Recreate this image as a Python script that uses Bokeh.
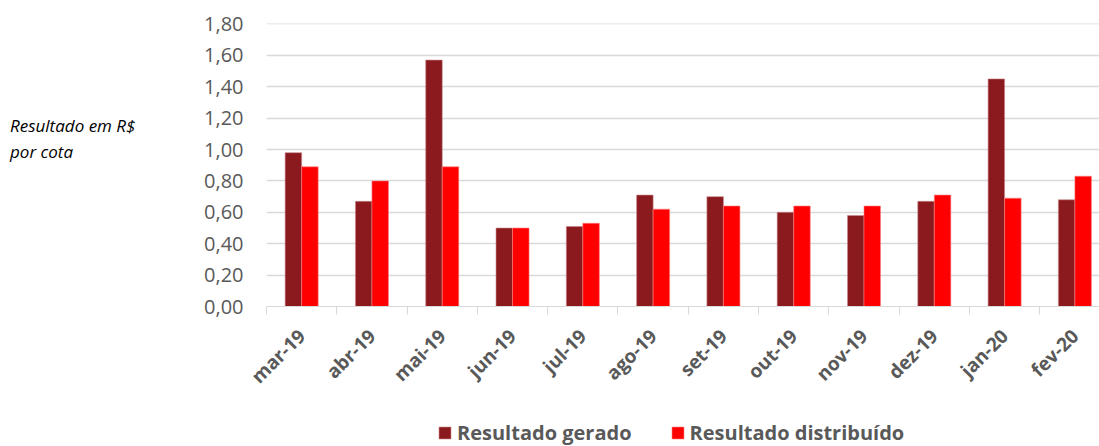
import math
from bokeh.plotting import figure
from bokeh.layouts import row, column
from bokeh.models import (ColumnDataSource, Range1d, FixedTicker, CustomJSTickFormatter,
                          Legend, LegendItem, Div)
from bokeh.transform import dodge
from bokeh.embed import file_html
from bokeh.resources import INLINE

months = ["mar-19", "abr-19", "mai-19", "jun-19", "jul-19", "ago-19",
          "set-19", "out-19", "nov-19", "dez-19", "jan-20", "fev-20"]
gerado = [0.98, 0.67, 1.57, 0.50, 0.51, 0.71, 0.70, 0.60, 0.58, 0.67, 1.45, 0.68]
distribuido = [0.89, 0.80, 0.89, 0.50, 0.53, 0.62, 0.64, 0.64, 0.64, 0.71, 0.69, 0.83]
y_ticks = [0.0, 0.2, 0.4, 0.6, 0.8, 1.0, 1.2, 1.4, 1.6, 1.8]

C_GER = "#8B1A1F"
C_DIS = "#FF0000"
TXT = "#595959"
GRID = "#D9D9D9"
FONT = "Open Sans"

DIV_W = 180
TOP_H = 400
LEG_H = 46

pos = [i + 0.5 for i in range(len(months))]
src = ColumnDataSource(dict(x=pos, g=gerado, d=distribuido, m=months))

p = figure(width=1099 - DIV_W, height=TOP_H, output_backend="svg", toolbar_location=None,
           x_range=Range1d(0, 11.85), y_range=Range1d(0, 1.803),
           min_border_left=266 - DIV_W, min_border_right=0, min_border_top=23,
           min_border_bottom=TOP_H - 308)
p.outline_line_color = None
p.background_fill_color = "white"
p.border_fill_color = "white"

bw = 0.235
bar_ger = dict(fill_color=C_GER, line_color="#C98A8D", line_width=0.6)
bar_dis = dict(fill_color=C_DIS, line_color="#FF8080", line_width=0.6)
p.vbar(x=dodge("x", -bw / 2, range=p.x_range), top="g", width=bw, source=src, **bar_ger)
p.vbar(x=dodge("x", bw / 2, range=p.x_range), top="d", width=bw, source=src, **bar_dis)

# x axis
xa = p.xaxis[0]
xa.ticker = FixedTicker(ticks=pos, minor_ticks=list(range(len(months) + 1)))
xa.major_label_overrides = {pt: m for pt, m in zip(pos, months)}
xa.major_tick_line_color = None
xa.major_tick_out = 0
xa.major_tick_in = 0
xa.minor_tick_line_color = GRID
xa.minor_tick_out = 8
xa.minor_tick_in = 0
xa.minor_tick_line_width = 1
xa.axis_line_color = GRID
xa.axis_line_width = 1
xa.major_label_orientation = math.pi / 4
xa.major_label_text_font = FONT
xa.major_label_text_font_style = "bold"
xa.major_label_text_font_size = "19px"
xa.major_label_text_color = TXT
xa.major_label_standoff = 18

# y axis
ya = p.yaxis[0]
ya.ticker = FixedTicker(ticks=y_ticks)
ya.formatter = CustomJSTickFormatter(code="return tick.toFixed(2).replace('.', ',');")
ya.axis_line_color = None
ya.major_tick_line_color = None
ya.major_tick_out = 0
ya.major_tick_in = 0
ya.minor_tick_line_color = None
ya.major_label_standoff = 23
ya.major_label_text_font = FONT
ya.major_label_text_font_size = "20px"
ya.major_label_text_color = TXT

p.xgrid.grid_line_color = None
p.ygrid.grid_line_color = GRID
p.ygrid.grid_line_width = 1.3
p.ygrid.ticker = FixedTicker(ticks=y_ticks)

# legend strip below the chart (series bars drawn outside its visible y range)
lf = figure(width=1099, height=LEG_H, output_backend="svg", toolbar_location=None,
            x_axis_location=None, y_axis_location=None, min_border=0,
            x_range=Range1d(0, 1), y_range=Range1d(10, 11))
lf.outline_line_color = None
lf.grid.grid_line_color = None
l1 = lf.vbar(x="x", top="g", width=bw, source=src, **bar_ger)
l2 = lf.vbar(x="x", top="d", width=bw, source=src, **bar_dis)
legend = Legend(items=[LegendItem(label="Resultado gerado", renderers=[l1]),
                       LegendItem(label="Resultado distribuído", renderers=[l2])],
                location=(437, 0), orientation="horizontal",
                label_text_font=FONT, label_text_font_style="bold",
                label_text_font_size="20px", label_text_color=TXT,
                glyph_width=15, glyph_height=15, label_standoff=5, spacing=38,
                padding=0, margin=0, border_line_color=None,
                background_fill_alpha=0)
lf.add_layout(legend, "center")

side = Div(text="Resultado em R$<br>por cota", width=DIV_W, height=TOP_H, margin=0,
           styles={"font-family": FONT, "font-style": "italic", "font-size": "17px",
                   "line-height": "26px", "padding-top": "113px", "padding-left": "10px",
                   "color": "black", "box-sizing": "border-box"})

layout = column(row(side, p), lf)
open("out.html", "w").write(file_html(layout, INLINE))
